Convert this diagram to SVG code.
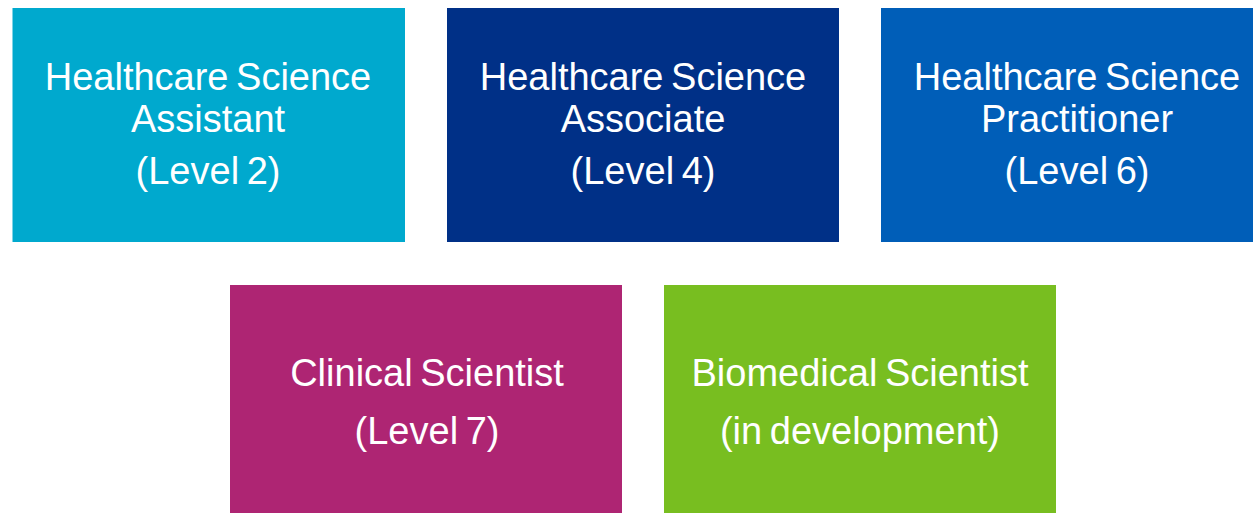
<svg xmlns="http://www.w3.org/2000/svg" width="1253" height="513" viewBox="0 0 1253 513">
<style>
.t{font-family:"Liberation Sans",Arial,sans-serif;font-size:38px;word-spacing:-3px;fill:#fff;text-anchor:middle}
</style>
<rect width="1253" height="513" fill="#fff"/>
<g id="n1"><rect x="12.5" y="8" width="392.5" height="234" fill="#00A9CE"/>
<text class="t" x="208" y="90">Healthcare Science</text>
<text class="t" x="208" y="132">Assistant</text>
<text class="t" x="208" y="184">(Level 2)</text></g>
<g id="n2"><rect x="447" y="8" width="392" height="234" fill="#003087"/>
<text class="t" x="643" y="90">Healthcare Science</text>
<text class="t" x="643" y="132">Associate</text>
<text class="t" x="643" y="184">(Level 4)</text></g>
<g id="n3"><rect x="881" y="8" width="392" height="234" fill="#005EB8"/>
<text class="t" x="1077" y="90">Healthcare Science</text>
<text class="t" x="1077" y="132">Practitioner</text>
<text class="t" x="1077" y="184">(Level 6)</text></g>
<g id="n4"><rect x="230" y="285" width="392" height="228" fill="#AE2573"/>
<text class="t" x="427" y="386">Clinical Scientist</text>
<text class="t" x="427" y="444">(Level 7)</text></g>
<g id="n5"><rect x="664" y="285" width="392" height="228" fill="#78BE20"/>
<text class="t" x="860" y="386">Biomedical Scientist</text>
<text class="t" x="860" y="444">(in development)</text></g>
<g id="connectors"/>
</svg>
